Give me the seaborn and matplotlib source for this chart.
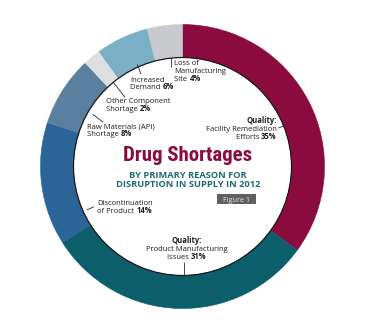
import matplotlib
matplotlib.use("Agg")
import matplotlib.pyplot as plt
import seaborn as sns
from matplotlib import font_manager
from matplotlib.patches import Circle, Rectangle

# ---------------- data ----------------
categories = ["Quality: Facility Remediation Efforts",
              "Quality: Product Manufacturing Issues",
              "Discontinuation of Product",
              "Raw Materials (API) Shortage",
              "Other Component Shortage",
              "Increased Demand",
              "Loss of Manufacturing Site"]
shares = [35, 31, 14, 8, 2, 6, 4]
colors = ["#8B0B3F", "#0C5F6A", "#2B6598", "#5B7F9F", "#DCDEE0", "#7AAFC5", "#C9CACD"]
title = "Drug Shortages"
subtitle = ["BY PRIMARY REASON FOR", "DISRUPTION IN SUPPLY IN 2012"]
badge = "Figure 1"

sns.set_theme(style="white")

# ---- font choice based on what is installed ----
entries = font_manager.fontManager.ttflist


def has(name, bold=False, stretch=None):
    for f in entries:
        if f.name != name:
            continue
        w = f.weight if isinstance(f.weight, int) else (700 if "bold" in str(f.weight) else 400)
        if bold and w < 600:
            continue
        if stretch and f.stretch != stretch:
            continue
        return True
    return False


LABEL = "Open Sans"
if not has(LABEL, bold=True):
    LABEL = "DejaVu Sans"
LABEL_FONT = [LABEL, "DejaVu Sans"]

NARROW, NSTRETCH = "Roboto", "normal"
for cand, st in [("Liberation Sans Narrow", "normal"), ("Roboto Condensed", "normal"),
                 ("Open Sans Condensed", "normal"), ("DejaVu Sans", "condensed"),
                 ("Noto Sans", "condensed"), ("Open Sans", "condensed")]:
    if st == "normal" and has(cand, bold=True):
        NARROW, NSTRETCH = cand, st
        break
    if st != "normal" and has(cand, bold=True, stretch=st):
        NARROW, NSTRETCH = cand, st
        break
if not has(NARROW, bold=True):
    NARROW, NSTRETCH = "DejaVu Sans", "normal"
NARROW_FONT = [NARROW, "DejaVu Sans"]

W, H = 375, 329
fig = plt.figure(figsize=(3.75, 3.29), dpi=100)
fig.patch.set_facecolor("white")
ax = fig.add_axes([0, 0, 1, 1])


def Y(y):
    return H - y


cx, cy = 182.5, 166.5
R_out, R_in = 142, 109
wedges, _ = ax.pie(shares, colors=colors, radius=R_out, center=(cx, Y(cy)), startangle=90,
                   counterclock=False,
                   wedgeprops=dict(width=R_out - R_in, linewidth=0.4))
for w in wedges:
    w.set_edgecolor(w.get_facecolor())
ax.add_patch(Circle((cx, Y(cy)), R_in, fill=False, edgecolor="#1a1a1a", linewidth=0.9))
ax.set_xlim(0, W)
ax.set_ylim(0, H)
ax.set_aspect("equal")
ax.axis("off")

renderer = fig.canvas.get_renderer()
TXT = "#1e1e1e"


def line(x, y, parts, ha="left", size=5.4, color=TXT, family=LABEL_FONT,
         stretch="normal", fit=None):
    """y is the vertical middle of the capital letters (pixels from top)."""
    objs, widths = [], []
    for s, b in parts:
        t = ax.text(0, Y(y), s, fontsize=size, fontweight="bold" if b else "normal",
                    family=family, fontstretch=stretch, color=color,
                    va="baseline", ha="left")
        objs.append(t)
        widths.append(t.get_window_extent(renderer).width)
    if fit is not None:
        scale = fit / sum(widths)
        size = size * scale
        widths = []
        for t in objs:
            t.set_fontsize(size)
            widths.append(t.get_window_extent(renderer).width)
    base = y + 0.36 * size * 100 / 72.0
    total = sum(widths)
    start = x if ha == "left" else (x - total if ha == "right" else x - total / 2)
    for t, w in zip(objs, widths):
        t.set_position((start, Y(base)))
        start += w
    return size


def leader(p0, p1):
    ax.plot([p0[0], p1[0]], [Y(p0[1]), Y(p1[1])], color="#2a2a2a", lw=0.6,
            solid_capstyle="butt")


def pct(i):
    return f"{shares[i]}%"


# label size fitted so that "Facility Remediation" is about 71 px wide
probe = ax.text(0, 0, "Facility Remediation", fontsize=10, family=LABEL_FONT)
LS = 10 * 71.0 / probe.get_window_extent(renderer).width
probe.remove()

# Loss of Manufacturing Site
line(174.3, 62.2, [("Loss of", 0)], size=LS)
line(174.3, 70.3, [("Manufacturing", 0)], size=LS)
line(174.3, 78.0, [("Site ", 0), (pct(6), 1)], size=LS)
leader((170.7, 57.5), (170.7, 66.5))

# Increased Demand
line(130, 79, [("Increased", 0)], size=LS)
line(130, 86.7, [("Demand ", 0), (pct(5), 1)], size=LS)
leader((137.3, 64.3), (141, 74.3))

# Other Component Shortage
line(105.7, 100.7, [("Other Component", 0)], size=LS)
line(105.7, 108.7, [("Shortage ", 0), (pct(4), 1)], size=LS)
leader((113.3, 82.3), (125, 97.3))

# Raw Materials
line(86.7, 126, [("Raw Materials (API)", 0)], size=LS)
line(86.7, 133.5, [("Shortage ", 0), (pct(3), 1)], size=LS)
leader((92.7, 114.3), (103.3, 122.3))

# Facility Remediation
line(276.7, 120, [("Quality:", 1)], ha="right", size=LS)
line(276.7, 128, [("Facility Remediation", 0)], ha="right", size=LS)
line(276.7, 135.9, [("Efforts ", 0), (pct(0), 1)], ha="right", size=LS)
leader((278.5, 128), (285, 125.5))

# Discontinuation
line(97.3, 202, [("Discontinuation", 0)], size=LS)
line(97.3, 210, [("of Product ", 0), (pct(2), 1)], size=LS)
leader((86.7, 210), (94, 206.7))

# Product Manufacturing
line(186.7, 240, [("Quality:", 1)], ha="center", size=LS)
line(186.7, 248, [("Product Manufacturing", 0)], ha="center", size=LS)
line(186.7, 256, [("Issues ", 0), (pct(1), 1)], ha="center", size=LS)
leader((184.3, 262), (184.3, 275))

# Title block
line(187.7, 153.5, [(title, 1)], ha="center", size=14, color="#8B0B3F",
     family=NARROW_FONT, stretch=NSTRETCH, fit=130)
ss = line(187.7, 174.5, [(subtitle[0], 1)], ha="center", size=6.7, color="#1B6B74",
          family=LABEL_FONT, fit=117.5)
line(187.7, 183.6, [(subtitle[1], 1)], ha="center", size=ss, color="#1B6B74",
     family=LABEL_FONT)

ax.add_patch(Rectangle((217.3, Y(204)), 38.7, 10, facecolor="#606060", edgecolor="none"))
line(236.7, 199.2, [(badge, 0)], ha="center", size=LS * 0.95, color="#e8e8e8")

fig.savefig("out.png", dpi=100, facecolor="white")
